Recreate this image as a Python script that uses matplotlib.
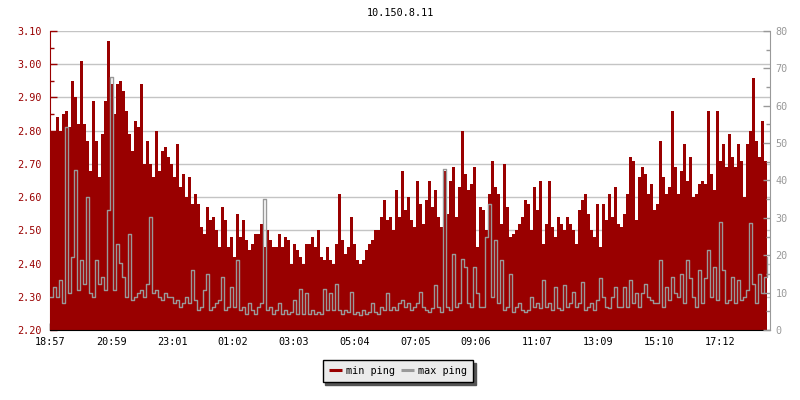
import numpy as np
import matplotlib
matplotlib.use("Agg")
import matplotlib.pyplot as plt
from matplotlib.lines import Line2D
from matplotlib.ticker import MultipleLocator, FormatStrFormatter

plt.rcParams['font.family'] = ['DejaVu Sans Mono']

title = "10.150.8.11"
start_label = "18:57"
step_min = 5.98
span_min = 1435

tick_labels = ["18:57", "20:59", "23:01", "01:02", "03:03", "05:04",
               "07:05", "09:06", "11:07", "13:09", "15:10", "17:12"]

# min ping (left axis, ms), one value per ~6 minutes
min_ping = [
    2.80, 2.80, 2.84, 2.80, 2.85, 2.86, 2.81, 2.95, 2.90, 2.82,
    3.01, 2.82, 2.77, 2.68, 2.89, 2.77, 2.66, 2.79, 2.89, 3.07,
    2.94, 2.85, 2.94, 2.95, 2.92, 2.86, 2.79, 2.74, 2.83, 2.81,
    2.94, 2.70, 2.77, 2.70, 2.66, 2.80, 2.68, 2.74, 2.75, 2.72,
    2.70, 2.66, 2.76, 2.63, 2.67, 2.60, 2.66, 2.58, 2.61, 2.58,
    2.51, 2.49, 2.57, 2.53, 2.54, 2.50, 2.45, 2.57, 2.53, 2.45,
    2.48, 2.42, 2.55, 2.48, 2.53, 2.47, 2.44, 2.46, 2.49, 2.49,
    2.52, 2.45, 2.50, 2.47, 2.45, 2.45, 2.49, 2.45, 2.48, 2.47,
    2.40, 2.46, 2.44, 2.42, 2.40, 2.46, 2.46, 2.48, 2.45, 2.50,
    2.42, 2.41, 2.45, 2.41, 2.40, 2.46, 2.61, 2.47, 2.43, 2.45,
    2.54, 2.46, 2.41, 2.40, 2.41, 2.44, 2.46, 2.47, 2.50, 2.50,
    2.54, 2.59, 2.53, 2.54, 2.50, 2.62, 2.54, 2.68, 2.56, 2.60,
    2.53, 2.51, 2.65, 2.58, 2.52, 2.59, 2.65, 2.57, 2.62, 2.54,
    2.51, 2.68, 2.55, 2.65, 2.69, 2.54, 2.63, 2.80, 2.67, 2.62,
    2.64, 2.69, 2.45, 2.57, 2.56, 2.50, 2.61, 2.71, 2.63, 2.61,
    2.52, 2.70, 2.57, 2.48, 2.49, 2.50, 2.52, 2.54, 2.59, 2.58,
    2.50, 2.63, 2.56, 2.65, 2.46, 2.52, 2.65, 2.51, 2.48, 2.54,
    2.52, 2.50, 2.54, 2.52, 2.50, 2.46, 2.56, 2.59, 2.61, 2.55,
    2.50, 2.48, 2.58, 2.45, 2.58, 2.53, 2.61, 2.54, 2.63, 2.52,
    2.51, 2.55, 2.61, 2.72, 2.71, 2.53, 2.66, 2.69, 2.67, 2.61,
    2.64, 2.56, 2.58, 2.77, 2.66, 2.61, 2.63, 2.86, 2.69, 2.61,
    2.68, 2.76, 2.65, 2.72, 2.60, 2.61, 2.64, 2.65, 2.64, 2.86,
    2.67, 2.62, 2.86, 2.71, 2.76, 2.69, 2.79, 2.72, 2.69, 2.76,
    2.71, 2.60, 2.76, 2.80, 2.96, 2.77, 2.72, 2.83, 2.71, 2.81,
]

# max ping (right axis, ms)
max_ping = [
    8.9, 11.6, 8.9, 13.3, 7.1, 54.2, 9.8, 19.6, 42.7, 10.7,
    18.7, 12.4, 35.6, 9.8, 8.9, 18.7, 12.4, 14.2, 10.7, 32.0,
    67.6, 10.7, 23.1, 17.8, 14.2, 8.9, 25.8, 8.0, 8.9, 9.8,
    10.7, 8.9, 12.4, 30.2, 9.8, 10.7, 8.9, 8.0, 9.8, 8.9,
    8.9, 7.1, 8.0, 6.2, 7.1, 8.9, 7.1, 16.0, 8.0, 5.3,
    6.2, 10.7, 15.1, 5.3, 6.2, 7.1, 8.0, 14.2, 5.3, 6.2,
    11.6, 6.2, 18.7, 5.3, 6.2, 4.4, 7.1, 5.3, 4.4, 6.2,
    7.1, 35.1, 5.3, 6.2, 4.4, 5.3, 7.3, 4.4, 5.3, 4.4,
    4.9, 8.0, 4.4, 11.1, 4.4, 9.8, 4.4, 5.3, 4.4, 4.9,
    4.4, 11.1, 5.3, 9.8, 5.3, 12.4, 5.3, 4.4, 5.3, 4.9,
    10.2, 4.4, 4.9, 4.0, 5.3, 4.4, 4.9, 7.1, 4.9, 4.4,
    6.2, 5.3, 9.8, 5.3, 6.2, 5.3, 7.1, 8.0, 6.2, 7.1,
    5.3, 6.2, 7.1, 10.2, 6.2, 5.3, 4.9, 5.8, 12.0, 6.2,
    4.9, 43.1, 6.2, 5.3, 20.4, 6.2, 7.1, 19.1, 16.9, 7.1,
    6.2, 16.9, 9.8, 6.2, 6.2, 24.9, 33.8, 8.9, 24.0, 7.1,
    18.7, 5.3, 6.2, 15.1, 4.9, 6.2, 7.1, 5.3, 4.9, 5.3,
    8.9, 6.2, 7.1, 5.8, 13.3, 6.2, 7.1, 5.3, 11.6, 5.8,
    5.3, 12.0, 6.2, 7.1, 10.2, 6.2, 7.1, 12.9, 5.3, 6.2,
    7.1, 5.3, 8.0, 13.8, 8.9, 6.2, 5.8, 8.9, 11.6, 6.2,
    6.2, 11.6, 6.2, 13.3, 7.1, 9.8, 6.2, 9.8, 12.4, 8.9,
    8.0, 7.1, 7.1, 18.7, 6.2, 11.6, 8.0, 14.2, 9.8, 8.9,
    15.1, 7.1, 18.7, 13.8, 8.9, 6.2, 16.0, 7.1, 13.8, 21.3,
    8.9, 16.9, 8.0, 28.9, 16.0, 7.1, 8.0, 14.2, 7.1, 13.3,
    8.0, 8.9, 10.7, 28.6, 12.4, 7.1, 15.1, 9.8, 14.2, 19.6,
]

RED = "#990000"
GRAY = "#999999"
FS = 7.3


def minutes_since_start(label):
    h, m = map(int, label.split(":"))
    h0, m0 = map(int, start_label.split(":"))
    return ((h * 60 + m) - (h0 * 60 + m0)) % 1440


t = np.arange(len(min_ping)) * step_min

fig = plt.figure(figsize=(8, 4), dpi=100)
ax = fig.add_axes([50 / 800, 1 - 330 / 400, 720 / 800, 299 / 400])
ax.set_axisbelow(True)

ax.fill_between(t, 2.2, min_ping, step="post", color=RED, linewidth=0, zorder=2)
ax.set_xlim(0, span_min)
ax.set_ylim(2.20, 3.10)

ax.yaxis.set_major_locator(MultipleLocator(0.10))
ax.yaxis.set_minor_locator(MultipleLocator(0.05))
ax.yaxis.set_major_formatter(FormatStrFormatter("%.2f"))
ax.grid(axis="y", color="#c4c4c4", linewidth=1, zorder=0)

ax.set_xticks([minutes_since_start(l) for l in tick_labels])
ax.set_xticklabels(tick_labels)

ax.tick_params(axis="y", which="major", direction="in", length=5, width=1,
               colors=RED, labelsize=FS, pad=6)
ax.tick_params(axis="y", which="minor", direction="in", length=3, width=1,
               colors=RED)
ax.tick_params(axis="x", direction="in", length=5, width=1, colors="black",
               labelsize=FS, pad=5)

for s in ["top", "right"]:
    ax.spines[s].set_visible(False)
ax.spines["left"].set_color(RED)
ax.spines["bottom"].set_color("black")

ax2 = ax.twinx()
ax2.plot(t, max_ping, drawstyle="steps-post", color=GRAY, linewidth=1.0, zorder=3)
ax2.set_ylim(0, 80)
ax2.yaxis.set_major_locator(MultipleLocator(10))
ax2.yaxis.set_minor_locator(MultipleLocator(5))
ax2.tick_params(axis="y", which="major", direction="in", length=5, width=1,
                colors=GRAY, labelsize=FS, pad=4)
ax2.tick_params(axis="y", which="minor", direction="in", length=3, width=1,
                colors=GRAY)
for s in ["top", "left", "bottom"]:
    ax2.spines[s].set_visible(False)
ax2.spines["right"].set_color(GRAY)

fig.text(0.5, 1 - 13 / 400, title, ha="center", va="center", fontsize=FS,
         color="black")

handles = [Line2D([], [], color=RED, linewidth=2.2, solid_capstyle="butt"),
           Line2D([], [], color=GRAY, linewidth=2.2, solid_capstyle="butt")]
leg = fig.legend(handles, ["min ping", "max ping"], loc="center",
                 bbox_to_anchor=(398 / 800, 1 - 371 / 400), ncol=2,
                 fontsize=FS, frameon=True, fancybox=False,
                 shadow={"facecolor": "#555555", "edgecolor": "#555555",
                         "alpha": 1.0},
                 handlelength=1.3, handletextpad=0.4, columnspacing=0.6,
                 borderpad=0.6, borderaxespad=0)
leg.get_frame().set_facecolor("#ebebeb")
leg.get_frame().set_edgecolor("black")
leg.get_frame().set_linewidth(1.0)
leg.get_frame().set_alpha(1.0)

fig.savefig("out.png", dpi=100)
